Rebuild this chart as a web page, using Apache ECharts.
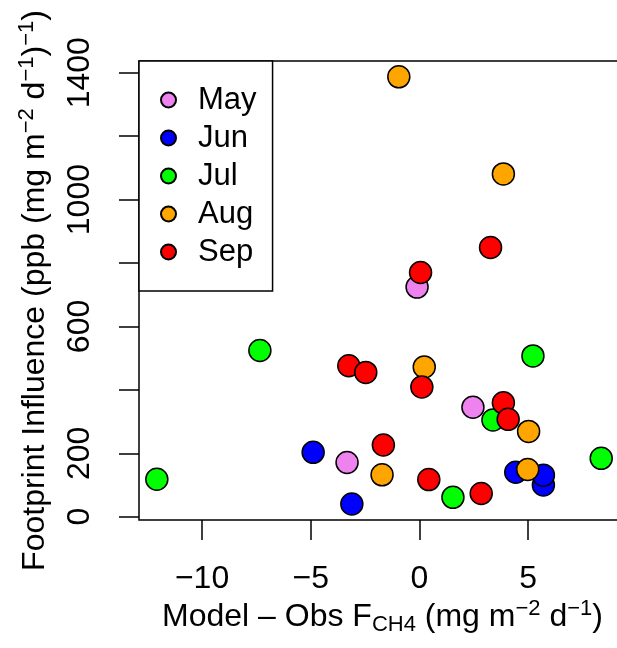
<!DOCTYPE html>
<html>
<head>
<meta charset="utf-8">
<script src="https://cdn.jsdelivr.net/npm/echarts@6/dist/echarts.min.js"></script>
<style>
html,body{margin:0;padding:0;background:#fff;}
#chart{width:617px;height:648px;}
</style>
</head>
<body>
<div id="chart"></div>
<script>
// ---- data ----
const months = ['May', 'Jun', 'Jul', 'Aug', 'Sep'];
const monthColors = ['#EE82EE', '#0000FF', '#00FF00', '#FFA500', '#FF0000'];

const mayX = [-0.11, -3.33, 2.46];
const mayY = [724, 171, 345];
const junX = [-4.89, -3.11, 4.43, 5.70, 5.70];
const junY = [203, 40, 140, 100, 131];
const julX = [-7.34, -12.08, 1.54, 8.36, 5.22, 3.38];
const julY = [524, 118, 61, 184, 507, 305];
const augX = [-0.95, 3.86, 0.22, -1.72, 4.98, 5.02];
const augY = [1387, 1081, 472, 132, 149, 269];
const sepX = [3.27, 0.05, -3.25, -2.47, 0.11, -1.66, 0.43, 2.84, 3.86, 4.08];
const sepY = [849, 770, 476, 455, 409, 226, 117, 73, 359, 307];

const xTicks = [-10, -5, 0, 5];
const yTicks = [0, 200, 400, 600, 800, 1000, 1200, 1400];
const yTickLabels = [0, 200, 600, 1000, 1400];

// ---- build ----
const FONT = "'Liberation Sans', Arial, Helvetica, sans-serif";
const xs = [mayX, junX, julX, augX, sepX];
const ys = [mayY, junY, julY, augY, sepY];
const fmt = v => (v < 0 ? '\u2212' + Math.abs(v) : String(v));

const richStyles = {
  m: { fontSize: 32, lineHeight: 38, fontFamily: FONT, color: '#000' },
  sup: { fontSize: 22, lineHeight: 31, verticalAlign: 'top', fontFamily: FONT, color: '#000' },
  sub: { fontSize: 22, lineHeight: 21, verticalAlign: 'bottom', fontFamily: FONT, color: '#000' }
};

const series = months.map((m, i) => ({
  name: m,
  type: 'scatter',
  symbol: 'circle',
  symbolSize: 22,
  data: xs[i].map((x, j) => [x, ys[i][j]]),
  itemStyle: { color: monthColors[i], borderColor: '#000', borderWidth: 1.5, opacity: 1 },
  emphasis: { disabled: true },
  animation: false
}));

const chart = echarts.init(document.getElementById('chart'), null, { renderer: 'canvas' });
chart.setOption({
  backgroundColor: '#fff',
  animation: false,
  grid: {
    left: 139, top: 61, width: 487, height: 459,
    show: true, borderColor: '#000', borderWidth: 1.5,
    containLabel: false, outerBoundsMode: 'none'
  },
  legend: {
    orient: 'vertical',
    left: 139, top: 61,
    data: months,
    icon: 'circle',
    itemWidth: 15, itemHeight: 15,
    itemGap: 6,
    padding: [23, 16, 23, 21],
    borderColor: '#000', borderWidth: 1.5, borderRadius: 0,
    backgroundColor: '#fff',
    selectedMode: false,
    textStyle: { fontFamily: FONT, fontSize: 31, lineHeight: 32, color: '#000', padding: [0, 0, 0, 17] },
    z: 10
  },
  xAxis: {
    type: 'value',
    min: -12.9, max: 9.5,
    axisLine: { show: false, onZero: false },
    splitLine: { show: false },
    axisTick: { show: true, length: 20, inside: false, customValues: xTicks, lineStyle: { color: '#000', width: 1.5 } },
    axisLabel: { customValues: xTicks, formatter: fmt, fontFamily: FONT, fontSize: 32, lineHeight: 32, color: '#000', margin: 43 },
    name: '{m|Model \u2013 Obs F}{sub|CH4}{m| (mg m}{sup|\u22122}{m| d}{sup|\u22121}{m|)}',
    nameLocation: 'middle',
    nameGap: 78,
    nameMoveOverlap: false,
    nameTextStyle: { fontFamily: FONT, fontSize: 32, color: '#000', rich: richStyles }
  },
  yAxis: {
    type: 'value',
    min: -10.4, max: 1437,
    axisLine: { show: false, onZero: false },
    splitLine: { show: false },
    axisTick: { show: true, length: 20, inside: false, customValues: yTicks, lineStyle: { color: '#000', width: 1.5 } },
    axisLabel: { customValues: yTickLabels, formatter: v => String(v), rotate: 90, fontFamily: FONT, fontSize: 32, lineHeight: 32, color: '#000', margin: 43 },
    name: '{m|Footprint Influence (ppb (mg m}{sup|\u22122}{m| d}{sup|\u22121}{m|)}{sup|\u22121}{m|)}',
    nameLocation: 'middle',
    nameRotate: 90,
    nameGap: 85,
    nameMoveOverlap: false,
    nameTextStyle: { fontFamily: FONT, fontSize: 32, color: '#000', rich: richStyles }
  },
  series: series
});
</script>
</body>
</html>
